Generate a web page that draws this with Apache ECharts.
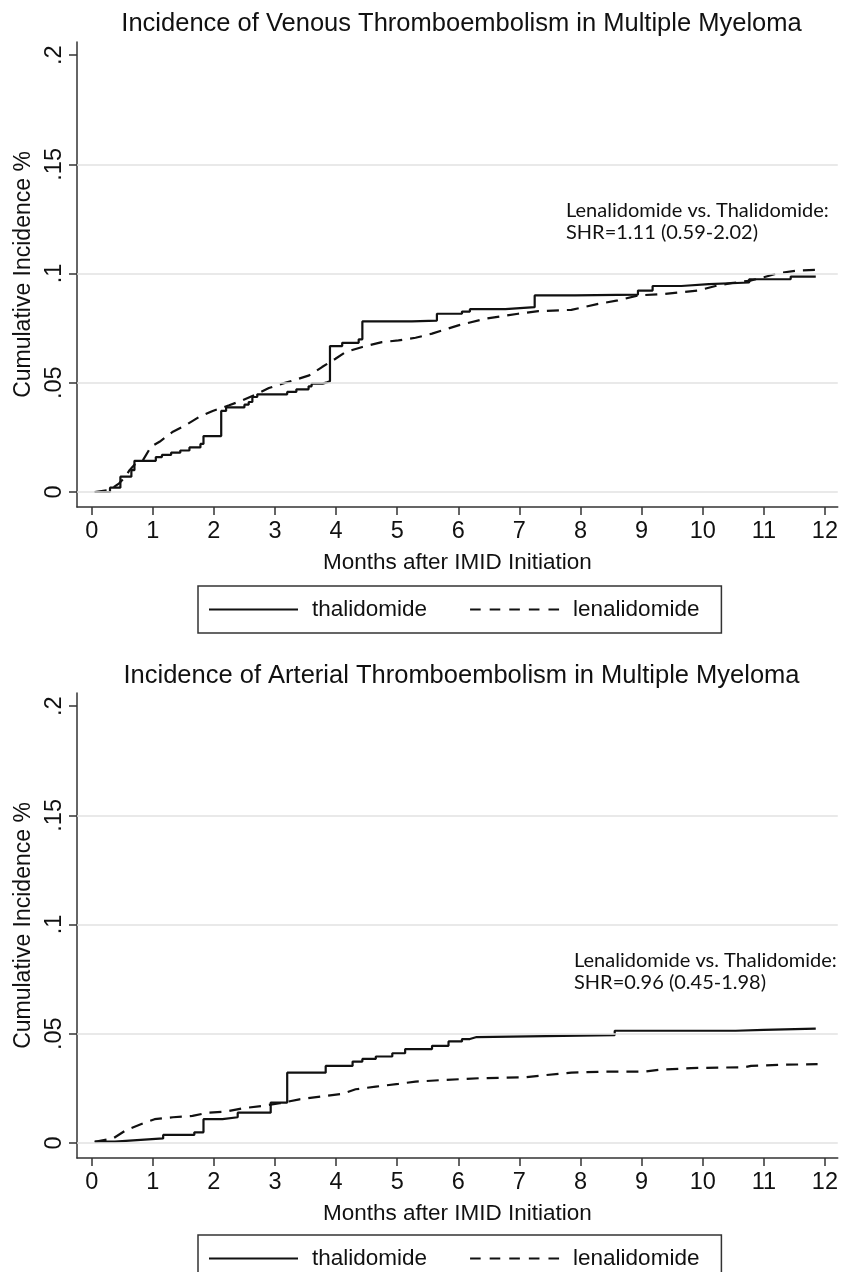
<!DOCTYPE html>
<html>
<head>
<meta charset="utf-8">
<script src="https://cdn.jsdelivr.net/npm/echarts@6/dist/echarts.min.js"></script>
<style>
html,body{margin:0;padding:0;background:#fff;}
#c{width:841px;height:1272px;}
</style>
</head>
<body>
<div id="c"></div>
<script>
// ---------------- DATA ----------------
const seriesNames = ['thalidomide', 'lenalidomide'];
const chartTitles = [
  'Incidence of Venous Thromboembolism in Multiple Myeloma',
  'Incidence of Arterial Thromboembolism in Multiple Myeloma'
];
const annotations = [
  'Lenalidomide vs. Thalidomide:\nSHR=1.11 (0.59-2.02)',
  'Lenalidomide vs. Thalidomide:\nSHR=0.96 (0.45-1.98)'
];
const xAxisTitle = 'Months after IMID Initiation';
const yAxisTitle = 'Cumulative Incidence %';
const xTickValues = [0,1,2,3,4,5,6,7,8,9,10,11,12];
const xTickLabels = ['0','1','2','3','4','5','6','7','8','9','10','11','12'];
const yTickValues = [0, 0.05, 0.1, 0.15, 0.2];
const yTickLabels = ['0', '.05', '.1', '.15', '.2'];
const gridLineValues = [0, 0.05, 0.1, 0.15];

// Venous thromboembolism: [month, cumulative incidence]
const vteThalidomide = [
  [0.05,0],[0.3,0.002],[0.47,0.007],[0.65,0.010],[0.7,0.0143],[1.05,0.016],[1.15,0.017],
  [1.3,0.018],[1.45,0.019],[1.6,0.0204],[1.78,0.022],[1.83,0.0256],[2.12,0.0371],[2.2,0.0387],
  [2.5,0.040],[2.57,0.0412],[2.63,0.0435],[2.71,0.0447],[3.2,0.0458],[3.35,0.047],[3.55,0.0484],
  [3.6,0.0496],[3.78,0.0502],[3.85,0.0507],[3.9,0.0668],[4.1,0.0683],[4.37,0.0699],[4.43,0.0781],
  [5.24,0.0785],[5.65,0.0816],[6.06,0.0826],[6.19,0.0837],[6.77,0.0846],[7.25,0.090],[7.91,0.0904],
  [8.94,0.0922],[9.18,0.0943],[9.65,0.0952],[10.1,0.0959],[10.76,0.0974],[11.44,0.0986],[11.85,0.0986]
];
const vteLenalidomide = [
  [0.05,0],[0.3,0.001],[0.45,0.004],[0.55,0.007],[0.62,0.010],[0.7,0.0125],[0.84,0.0146],
  [0.97,0.0207],[1.11,0.023],[1.33,0.0276],[1.54,0.0306],[1.76,0.0344],[1.98,0.0371],[2.25,0.0397],
  [2.47,0.042],[2.69,0.0447],[2.9,0.0476],[3.12,0.0496],[3.34,0.0514],[3.56,0.0534],[3.77,0.0572],
  [3.99,0.061],[4.15,0.064],[4.43,0.0664],[4.75,0.0686],[5.02,0.0694],[5.3,0.0706],[5.57,0.0725],
  [6.0,0.0763],[6.44,0.0793],[6.98,0.0816],[7.31,0.0828],[7.85,0.0834],[8.29,0.0861],[8.61,0.0877],
  [8.94,0.090],[9.38,0.0907],[9.92,0.0922],[10.24,0.0945],[10.46,0.0956],[10.79,0.0968],[11.0,0.0983],
  [11.22,0.1001],[11.55,0.1014],[11.9,0.1017]
];

// Arterial thromboembolism: [month, cumulative incidence]
const ateThalidomide = [
  [0.05,0.0006],[0.38,0.0012],[0.68,0.0021],[1.17,0.0037],[1.68,0.0049],[1.83,0.0109],[2.14,0.0118],
  [2.39,0.0139],[2.93,0.0185],[3.2,0.0322],[3.83,0.0353],[4.27,0.0373],[4.43,0.0385],[4.65,0.0396],
  [4.92,0.0411],[5.13,0.043],[5.57,0.0445],[5.84,0.0465],[6.06,0.0476],[6.19,0.0485],[6.3,0.0494],
  [8.56,0.0514],[10.54,0.0518],[11.0,0.0524],[11.85,0.0524]
];
const ateLenalidomide = [
  [0.05,0.0005],[0.35,0.0021],[0.57,0.006],[0.84,0.009],[1.03,0.0109],[1.33,0.0118],[1.65,0.0124],
  [1.9,0.0139],[2.2,0.0144],[2.47,0.0159],[2.8,0.017],[3.08,0.0182],[3.4,0.02],[3.83,0.0216],
  [4.1,0.0225],[4.32,0.0246],[4.65,0.0258],[5.02,0.0271],[5.3,0.0281],[5.79,0.0289],[6.38,0.0297],
  [7.09,0.0301],[7.36,0.0309],[7.85,0.0322],[8.4,0.0327],[9.05,0.0327],[9.28,0.0335],[9.81,0.0343],
  [10.68,0.0347],[10.79,0.0353],[11.28,0.0358],[11.88,0.0361]
];

// ---------------- LAYOUT / STYLE ----------------
const FONT = "'Liberation Sans', Arial, Helvetica, sans-serif";
const NOTE_FONT = "Lato, 'Open Sans', sans-serif";
const INK = '#111';
const AXIS = '#333';
const X_MIN = -0.24, X_MAX = 12.21;
const Y_MIN = -0.00686, Y_MAX = 0.206;
const grids = [
  {left: 77, top: 42, width: 764, height: 465},
  {left: 77, top: 693, width: 764, height: 465}
];
const titleY = [24, 675.5];
const noteX = [566, 574];
const noteY = [221.5, 971.5];
const legendTop = [586, 1235];
const SOLID_ICON = 'rect';
const DASH_ICON = 'path://M0,0h10.6v2h-10.6z M19.6,0h10.6v2h-10.6z M39.2,0h10.6v2h-10.6z M58.8,0h10.6v2h-10.6z M78.4,0h10.6v2h-10.6z';

function labelFor(values, labels, v) {
  const i = values.findIndex(t => Math.abs(t - v) < 1e-9);
  return i >= 0 ? labels[i] : '';
}

function xAxisCfg(gi) {
  return {
    type: 'value', gridIndex: gi, min: X_MIN, max: X_MAX,
    axisLine: {show: true, onZero: false, lineStyle: {color: AXIS, width: 1.5}},
    axisTick: {show: true, customValues: xTickValues, length: 8, lineStyle: {color: AXIS, width: 1.5}},
    axisLabel: {customValues: xTickValues, margin: 13, fontSize: 23.5, fontFamily: FONT, color: INK,
      formatter: v => labelFor(xTickValues, xTickLabels, v)},
    splitLine: {show: false},
    name: xAxisTitle, nameLocation: 'middle', nameGap: 44,
    nameTextStyle: {fontSize: 22.5, fontFamily: FONT, color: INK}
  };
}
function yAxisCfg(gi) {
  return {
    type: 'value', gridIndex: gi, min: Y_MIN, max: Y_MAX,
    axisLine: {show: true, onZero: false, lineStyle: {color: AXIS, width: 1.5}},
    axisTick: {show: true, customValues: yTickValues, length: 8, lineStyle: {color: AXIS, width: 1.5}},
    axisLabel: {customValues: yTickValues, rotate: 90, margin: 10, fontSize: 23.5, fontFamily: FONT, color: INK,
      formatter: v => labelFor(yTickValues, yTickLabels, v)},
    splitLine: {show: false},
    name: yAxisTitle, nameLocation: 'middle', nameRotate: 90, nameGap: 40,
    nameTextStyle: {fontSize: 23, fontFamily: FONT, color: INK}
  };
}

const datasets = [[vteThalidomide, vteLenalidomide], [ateThalidomide, ateLenalidomide]];
const series = [];
datasets.forEach((pair, gi) => {
  series.push({
    type: 'line', name: 'grid' + gi, xAxisIndex: gi, yAxisIndex: gi, data: [], z: 1, silent: true,
    markLine: {
      silent: true, symbol: ['none', 'none'], animation: false,
      label: {show: false},
      lineStyle: {color: '#e2e2e2', width: 1.5, type: 'solid'},
      emphasis: {disabled: true},
      data: gridLineValues.map(v => ({yAxis: v}))
    }
  });
  series.push({
    type: 'line', name: seriesNames[0], xAxisIndex: gi, yAxisIndex: gi, step: 'end',
    data: pair[0], showSymbol: false, symbol: 'none', z: 3,
    lineStyle: {color: INK, width: 2.2, type: 'solid'}, itemStyle: {color: INK}
  });
  series.push({
    type: 'line', name: seriesNames[1], xAxisIndex: gi, yAxisIndex: gi,
    data: pair[1], showSymbol: false, symbol: 'none', z: 2,
    lineStyle: {color: INK, width: 2.2, type: [12, 8]}, itemStyle: {color: INK}
  });
});

const legends = legendTop.map(t => ({
  top: t, left: 198, orient: 'horizontal',
  padding: [12, 22, 12, 11],
  borderColor: AXIS, borderWidth: 1.5, borderRadius: 0,
  itemWidth: 89, itemHeight: 2, itemGap: 43,
  symbolKeepAspect: false,
  selectedMode: false,
  itemStyle: {color: INK, borderWidth: 0},
  textStyle: {fontSize: 22.5, fontFamily: FONT, color: INK, padding: [0, 0, 0, 9]},
  data: [
    {name: seriesNames[0], icon: SOLID_ICON},
    {name: seriesNames[1], icon: DASH_ICON}
  ]
}));

const graphics = [];
chartTitles.forEach((t, i) => {
  graphics.push({
    type: 'text', x: 461.5, y: titleY[i], silent: true,
    style: {text: t, fill: INK, font: '25.5px ' + FONT, textAlign: 'center', textVerticalAlign: 'middle'}
  });
  graphics.push({
    type: 'text', x: noteX[i], y: noteY[i], silent: true,
    style: {text: annotations[i], fill: INK, font: '20px ' + NOTE_FONT, lineHeight: 22.5,
      textAlign: 'left', textVerticalAlign: 'middle'}
  });
});

const chart = echarts.init(document.getElementById('c'), null, {renderer: 'canvas'});
chart.setOption({
  animation: false,
  backgroundColor: '#fff',
  grid: grids,
  xAxis: [xAxisCfg(0), xAxisCfg(1)],
  yAxis: [yAxisCfg(0), yAxisCfg(1)],
  legend: legends,
  series: series,
  graphic: graphics
});
</script>
</body>
</html>
